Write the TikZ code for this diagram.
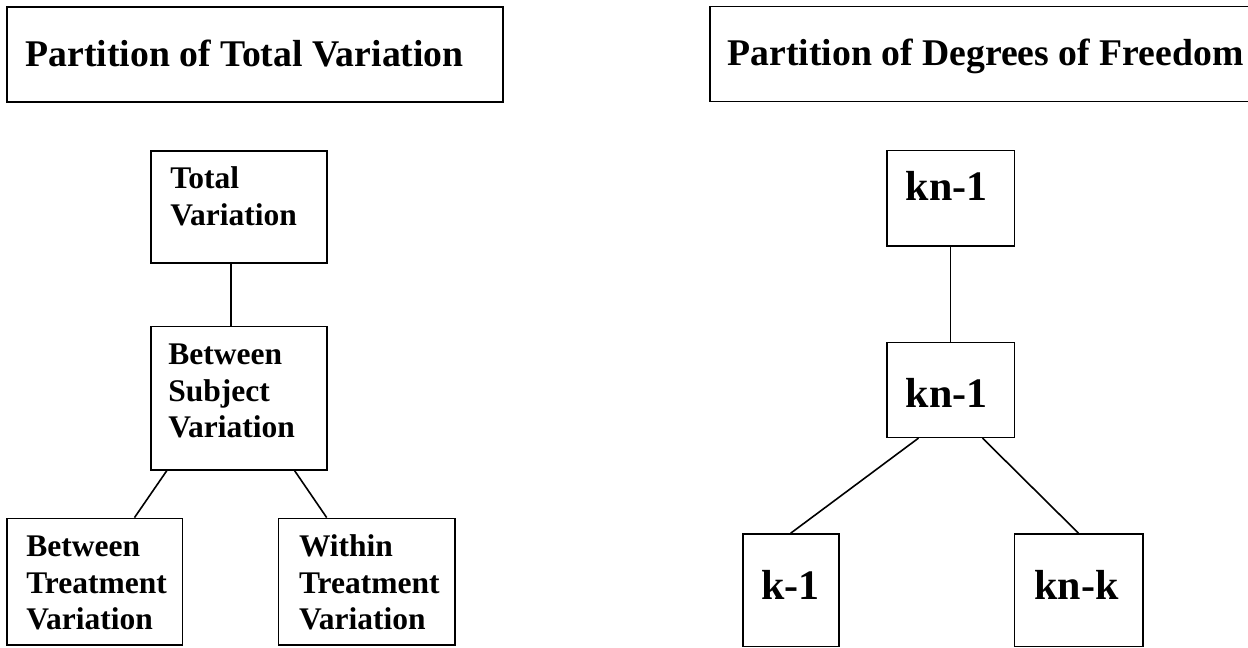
\documentclass[tikz,border=0pt]{standalone}
\usepackage{fontspec}
\setmainfont{Liberation Serif}
\usepackage{tikz}
\usetikzlibrary{positioning}

\begin{document}
\begin{tikzpicture}[
    x=0.5pt, y=-0.5pt,
    box/.style={draw, line width=0.8pt, inner sep=0pt},
    hd/.style={font=\fontsize{18.85}{22}\selectfont\bfseries, anchor=base west, inner sep=0pt},
    txt/.style={font=\fontsize{15.75}{18.25}\selectfont\bfseries, align=left, text width=78pt,
                anchor=base west, inner sep=0pt},
    num/.style={font=\fontsize{21}{24}\selectfont\bfseries, anchor=base, inner sep=0pt},
    con/.style={line width=0.8pt},
]
\useasboundingbox (0,0) rectangle (1248,648);

% Titles
\node[box, minimum width=248pt, minimum height=47.5pt] (ttlvar) at (255,54.5) {};
\node[hd] at ([shift={(19,60)}]ttlvar.north west) {Partition of Total Variation};
\node[box, minimum width=274pt, minimum height=47.5pt] (ttldf) at (984,54) {};
\node[hd] at ([shift={(18,60)}]ttldf.north west) {Partition of Degrees of Freedom};

% Left tree: variation
\node[box, minimum width=88pt, minimum height=56pt] (total) at (238.7,206.7) {};
\node[txt] at ([shift={(20,39)}]total.north west) {Total\\Variation};
\node[box, minimum width=88pt, minimum height=71.7pt] (subj) at (238.7,398.3) {};
\node[txt] at ([shift={(18,39)}]subj.north west) {Between\\Subject\\Variation};
\node[box, minimum width=87.8pt, minimum height=63.3pt] (btreat) at (94.5,581.7) {};
\node[txt] at ([shift={(20,39)}]btreat.north west) {Between\\Treatment\\Variation};
\node[box, minimum width=88.3pt, minimum height=63.3pt] (wtreat) at (366.7,581.7) {};
\node[txt] at ([shift={(21,39)}]wtreat.north west) {Within\\Treatment\\Variation};

\draw[con] ([xshift=-4pt]total.south) -- ([xshift=-4pt]subj.north);
\draw[con] ([xshift=-36pt]subj.south) -- ([xshift=20pt]btreat.north);
\draw[con] ([xshift=28pt]subj.south) -- ([xshift=-20pt]wtreat.north);

% Right tree: degrees of freedom
\node[box, minimum width=63.8pt, minimum height=47.7pt] (dftot) at (950.5,198.3) {};
\node[num] at ([shift={(-4,51)}]dftot.north) {kn-1};
\node[box, minimum width=63.8pt, minimum height=47.5pt] (dfsubj) at (950.5,389.8) {};
\node[num] at ([shift={(-4,66)}]dfsubj.north) {kn-1};
\node[box, minimum width=48pt, minimum height=56.3pt] (dfb) at (790.7,590.3) {};
\node[num] at ([shift={(0,66)}]dfb.north) {k-1};
\node[box, minimum width=64.2pt, minimum height=56.3pt] (dfw) at (1078.5,590.3) {};
\node[num] at ([shift={(-2,66)}]dfw.north) {kn-k};

\draw[con] (dftot) -- (dfsubj);
\draw[con] ([xshift=-16pt]dfsubj.south) -- (dfb.north);
\draw[con] ([xshift=16pt]dfsubj.south) -- (dfw.north);

\end{tikzpicture}
\end{document}
